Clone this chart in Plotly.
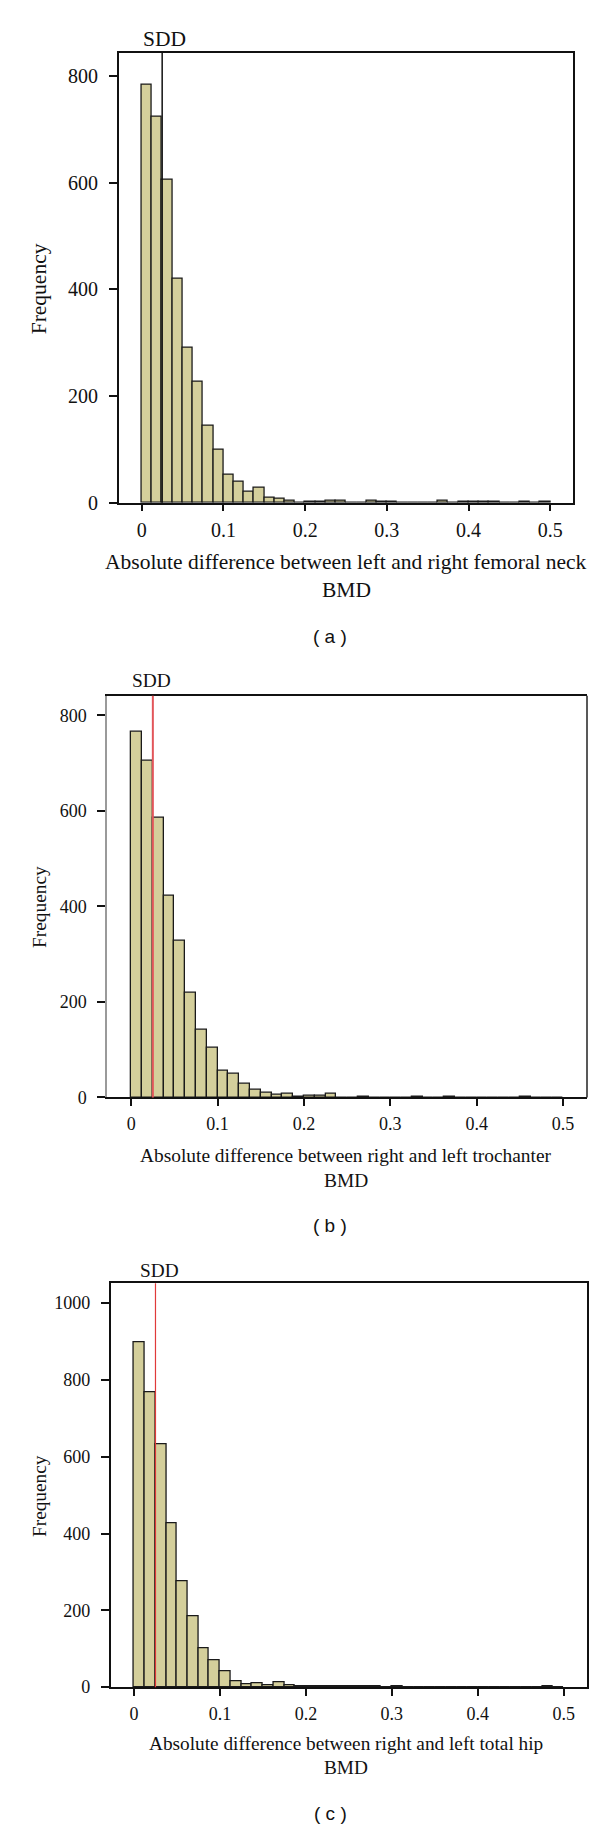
import plotly.graph_objects as go

W, H = 600, 1831

# ---------------- data ----------------
BIN_WIDTH = 0.0125
bin_starts = [round(i * BIN_WIDTH, 4) for i in range(40)]

neck_counts = [783, 723, 606, 419, 290, 227, 145, 99, 53, 39,
               20, 28, 9, 8, 3, 0, 1, 1, 3, 3,
               0, 0, 3, 1, 1, 0, 0, 0, 0, 3,
               0, 2, 1, 1, 1, 0, 0, 1, 0, 1]
troch_counts = [765, 704, 585, 423, 327, 219, 142, 103, 56, 50,
                28, 15, 10, 6, 8, 2, 3, 3, 7, 0,
                0, 1, 0, 0, 0, 0, 2, 0, 0, 1,
                0, 0, 0, 0, 0, 0, 1, 0, 0, 0]
hip_counts = [897, 767, 632, 428, 275, 185, 100, 69, 42, 15,
              8, 11, 5, 12, 5, 2, 2, 1, 3, 1,
              1, 1, 1, 0, 1, 0, 0, 0, 0, 0,
              0, 0, 0, 0, 0, 0, 0, 0, 1, 0]

sdd_value = 0.025
x_tick_vals = [0, 0.1, 0.2, 0.3, 0.4, 0.5]
x_tick_text = ["0", "0.1", "0.2", "0.3", "0.4", "0.5"]
y_ticks_ab = [0, 200, 400, 600, 800]
y_ticks_c = [0, 200, 400, 600, 800, 1000]

titles = ["Absolute difference between left and right femoral neck",
          "Absolute difference between right and left trochanter",
          "Absolute difference between right and left total hip"]
captions = ["( a )", "( b )", "( c )"]

# ---------------- layout geometry (pixels) ----------------
SERIF = "Liberation Serif"
SANS = "Liberation Sans"
BAR_FILL = "#d4cf9b"

panels = [
    dict(counts=neck_counts, box=(110.7, 565, 45, 497.7), ymax=843.4, yticks=y_ticks_ab,
         xr=(-0.0282, 0.5278), sdd_color="#111111", sdd_w=1.5, tick=20, tfs=21.5,
         title_y=(557.7, 586), cap_y=632.5, freq_y=283, sdd_xy=(156, 31), left_gray=False),
    dict(counts=troch_counts, box=(99, 579, 692, 1096), ymax=841.0, yticks=y_ticks_ab,
         xr=(-0.0281, 0.5278), sdd_color="#e2555a", sdd_w=2, tick=18, tfs=19.4,
         title_y=(1154.3, 1180), cap_y=1225, freq_y=904.5, sdd_xy=(143, 677), left_gray=True),
    dict(counts=hip_counts, box=(102.7, 579, 1283, 1689.3), ymax=1051.7, yticks=y_ticks_c,
         xr=(-0.0271, 0.5271), sdd_color="#e03a3a", sdd_w=1.2, tick=18, tfs=19.3,
         title_y=(1746, 1770.3), cap_y=1816, freq_y=1497, sdd_xy=(151, 1270), left_gray=False),
]


def px_x(x):
    return x / W


def px_y(y):
    return 1 - y / H


fig = go.Figure()
annotations = []
shapes = []
layout_axes = {}

for i, p in enumerate(panels, start=1):
    xa = "x" if i == 1 else f"x{i}"
    ya = "y" if i == 1 else f"y{i}"
    left, right, top, bottom = p["box"]

    fig.add_trace(go.Bar(
        x=[b + BIN_WIDTH / 2 for b in bin_starts],
        y=p["counts"],
        width=BIN_WIDTH,
        marker=dict(color=BAR_FILL, line=dict(color="#1a1a1a", width=1.3)),
        xaxis=xa, yaxis=ya, showlegend=False, hoverinfo="x+y",
    ))

    layout_axes[f"xaxis{'' if i == 1 else i}"] = dict(
        domain=[px_x(left), px_x(right)], anchor=ya, range=list(p["xr"]),
        tickvals=x_tick_vals, ticktext=x_tick_text, ticks="outside", ticklen=7,
        tickwidth=1.5, tickcolor="#111", showline=True, linecolor="#111", linewidth=1.5,
        mirror=True, showgrid=False, zeroline=False, ticklabelstandoff=2,
        tickfont=dict(family=SERIF, size=p["tick"], color="#111"),
    )
    layout_axes[f"yaxis{'' if i == 1 else i}"] = dict(
        domain=[px_y(bottom), px_y(top)], anchor=xa, range=[0, p["ymax"]],
        tickvals=p["yticks"], ticks="outside", ticklen=8, tickwidth=1.5, tickcolor="#111",
        showline=True, linecolor="#9a9a9a" if p["left_gray"] else "#111", linewidth=1.5,
        mirror=False if p["left_gray"] else True, showgrid=False, zeroline=False,
        ticklabelstandoff=7,
        tickfont=dict(family=SERIF, size=p["tick"], color="#111"),
    )
    if p["left_gray"]:
        shapes.append(dict(type="line", xref=f"{xa} domain", yref=f"{ya} domain",
                           x0=1, x1=1, y0=0, y1=1, line=dict(color="#222", width=1.5)))

    # SDD line
    shapes.append(dict(type="line", xref=xa, yref=f"{ya} domain", x0=sdd_value, x1=sdd_value,
                       y0=0, y1=1, line=dict(color=p["sdd_color"], width=p["sdd_w"])))

    # SDD label
    annotations.append(dict(text="SDD", xref="paper", yref="paper",
                            x=px_x(p["sdd_xy"][0]), y=px_y(p["sdd_xy"][1]),
                            xanchor="center", yanchor="middle", showarrow=False,
                            font=dict(family=SERIF, size=p["tfs"], color="#111")))
    # Frequency label
    annotations.append(dict(text="Frequency", xref="paper", yref="paper",
                            x=px_x(31), y=px_y(p["freq_y"]), textangle=-90,
                            xanchor="center", yanchor="middle", showarrow=False,
                            font=dict(family=SERIF, size=p["tfs"], color="#111")))
    # x-axis title (two lines)
    annotations.append(dict(text=titles[i - 1], xref="paper", yref="paper",
                            x=px_x(338), y=px_y(p["title_y"][0]),
                            xanchor="center", yanchor="middle", showarrow=False,
                            font=dict(family=SERIF, size=p["tfs"], color="#111")))
    annotations.append(dict(text="BMD", xref="paper", yref="paper",
                            x=px_x(338), y=px_y(p["title_y"][1]),
                            xanchor="center", yanchor="middle", showarrow=False,
                            font=dict(family=SERIF, size=p["tfs"], color="#111")))
    # caption
    annotations.append(dict(text=captions[i - 1], xref="paper", yref="paper",
                            x=px_x(322), y=px_y(p["cap_y"]),
                            xanchor="center", yanchor="middle", showarrow=False,
                            font=dict(family=SANS, size=19, color="#111")))

fig.update_layout(
    width=W, height=H, autosize=False,
    margin=dict(l=0, r=0, t=0, b=0),
    paper_bgcolor="white", plot_bgcolor="white",
    bargap=0, annotations=annotations, shapes=shapes,
    **layout_axes,
)

fig.write_html("out.html")
